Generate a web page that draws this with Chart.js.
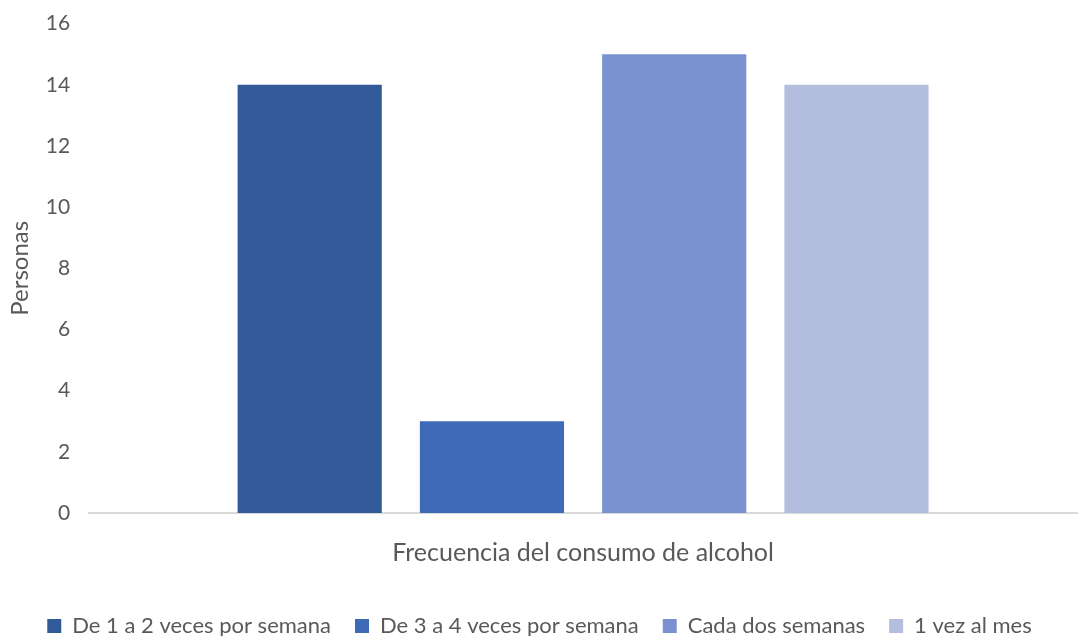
<!DOCTYPE html>
<html>
<head>
<meta charset="utf-8">
<script src="https://cdn.jsdelivr.net/npm/chart.js@4"></script>
<style>
  html, body { margin: 0; padding: 0; background: #fff; }
  #wrap { width: 1078px; height: 636px; }
</style>
</head>
<body>
<div id="wrap"><canvas id="chart"></canvas></div>
<script>
// one category, one series per frequency
const categories = ['']
const seriesNames = ['De 1 a 2 veces por semana', 'De 3 a 4 veces por semana', 'Cada dos semanas', '1 vez al mes']
const seriesValues = [14, 3, 15, 14]
const seriesColors = ['#335a98', '#3e6ab8', '#7a92cf', '#b3bede']

const FONT = "Lato, 'Open Sans', sans-serif"
const GREY = '#595959'

const datasets = seriesNames.map((name, i) => ({
    label: name,
    data: [seriesValues[i]],
    backgroundColor: seriesColors[i],
    borderWidth: 0
}))

new Chart('chart', {
    type: 'bar',
    data: { labels: categories, datasets: datasets },
    options: {
        responsive: true,
        maintainAspectRatio: false,
        animation: false,
        categoryPercentage: 0.738,
        barPercentage: 0.791,
        layout: { padding: { top: -8, right: 1, left: 2, bottom: -11 } },
        plugins: {
            legend: {
                position: 'bottom',
                labels: {
                    font: { family: FONT, size: 22 },
                    color: GREY,
                    boxWidth: 14,
                    boxHeight: 14,
                    padding: 24
                }
            },
            tooltip: { enabled: false }
        },
        scales: {
            x: {
                grid: { display: false },
                border: { color: '#d9d9d9', width: 2 },
                ticks: { display: false },
                title: {
                    display: true,
                    text: 'Frecuencia del consumo de alcohol',
                    font: { family: FONT, size: 25 },
                    color: GREY,
                    padding: { top: 17, bottom: 23 }
                }
            },
            y: {
                min: 0,
                max: 16,
                ticks: {
                    stepSize: 2,
                    font: { family: FONT, size: 21 },
                    color: GREY,
                    padding: 11
                },
                grid: { display: false },
                border: { display: false },
                title: {
                    display: true,
                    text: 'Personas',
                    font: { family: FONT, size: 24 },
                    color: GREY,
                    padding: { top: 4, bottom: 0 }
                }
            }
        }
    }
})
</script>
</body>
</html>
